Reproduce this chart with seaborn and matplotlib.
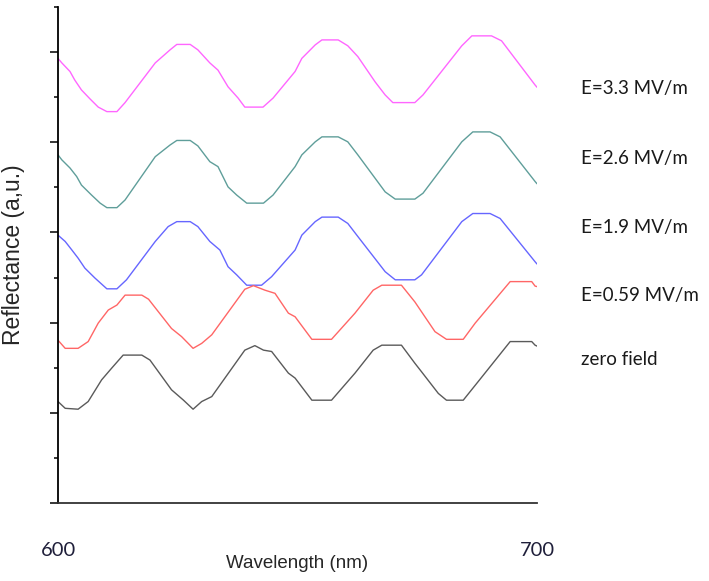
"""
Reflectance spectra under different applied fields (offset curves).
"""

import matplotlib
matplotlib.use("Agg")
import matplotlib.pyplot as plt
import matplotlib.transforms as mtransforms
import numpy as np
import pandas as pd
import seaborn as sns

# Vertices (wavelength in nm, reflectance in a.u. with offsets)
wl_33 = [600.0, 600.8, 602.5, 603.5, 604.9, 606.7, 608.4, 610.2, 612.3, 614.0,
         620.3, 623.4, 624.8, 627.6, 629.2, 631.7, 633.4, 635.5, 637.6, 639.0,
         642.8, 644.9, 649.5, 650.9, 653.7, 655.1, 658.5, 660.5, 662.6, 666.2,
         668.3, 669.9, 674.5, 676.2, 684.3, 686.4, 690.5, 692.6, 699.6, 700.0]
r_33 = [9.86, 9.76, 9.57, 9.38, 9.16, 8.96, 8.78, 8.68, 8.68, 8.88,
        9.76, 10.05, 10.17, 10.17, 10.05, 9.76, 9.60, 9.23, 8.98, 8.78,
        8.78, 8.98, 9.57, 9.86, 10.16, 10.27, 10.27, 10.14, 9.90, 9.34,
        9.05, 8.88, 8.88, 9.05, 10.14, 10.36, 10.36, 10.25, 9.27, 9.22]

wl_26 = [600.0, 600.8, 602.5, 603.9, 604.9, 607.0, 608.8, 610.2, 612.3, 614.0,
         620.3, 623.4, 624.8, 627.6, 629.2, 631.7, 633.4, 635.5, 637.3, 639.4,
         642.9, 644.9, 649.5, 650.9, 653.7, 655.1, 658.5, 660.5, 662.6, 668.3,
         670.4, 674.5, 676.2, 684.3, 686.6, 690.2, 692.3, 699.6, 700.0]
r_26 = [7.72, 7.61, 7.43, 7.24, 7.05, 6.83, 6.65, 6.55, 6.55, 6.72,
        7.68, 7.94, 8.04, 8.04, 7.92, 7.57, 7.46, 7.01, 6.83, 6.65,
        6.65, 6.83, 7.46, 7.72, 8.01, 8.12, 8.12, 8.01, 7.72, 6.90,
        6.74, 6.74, 6.87, 8.01, 8.23, 8.23, 8.12, 7.13, 7.08]

wl_19 = [600.0, 601.5, 602.9, 604.2, 605.6, 607.7, 610.2, 612.3, 614.3, 620.3,
         623.0, 624.8, 627.6, 629.2, 631.7, 633.8, 635.5, 637.3, 639.4, 642.5,
         644.6, 649.5, 650.9, 653.7, 655.1, 658.5, 660.5, 662.6, 668.3, 670.4,
         674.5, 675.9, 684.3, 686.6, 690.2, 692.3, 699.6, 700.0]
r_19 = [5.94, 5.80, 5.61, 5.43, 5.21, 4.99, 4.75, 4.75, 4.95, 5.80,
        6.13, 6.24, 6.24, 6.13, 5.80, 5.61, 5.24, 5.06, 4.83, 4.83,
        5.02, 5.61, 5.94, 6.24, 6.34, 6.34, 6.20, 5.91, 5.13, 4.95,
        4.95, 5.06, 6.24, 6.42, 6.42, 6.31, 5.35, 5.30]

wl_059 = [600.0, 601.5, 604.2, 606.3, 608.4, 610.5, 612.3, 614.0, 617.5, 618.9,
          623.7, 625.8, 628.2, 630.0, 632.1, 639.0, 640.8, 643.2, 645.3, 648.1,
          649.5, 653.0, 657.1, 662.0, 665.8, 667.6, 671.7, 674.5, 675.9, 678.7,
          681.1, 684.6, 687.1, 694.4, 698.9, 699.6, 700.0]
r_059 = [3.61, 3.43, 3.43, 3.58, 3.99, 4.28, 4.39, 4.61, 4.61, 4.52,
         3.87, 3.69, 3.43, 3.54, 3.73, 4.74, 4.82, 4.72, 4.65, 4.21,
         4.13, 3.63, 3.63, 4.21, 4.72, 4.83, 4.83, 4.46, 4.24, 3.80,
         3.63, 3.63, 3.99, 4.91, 4.91, 4.81, 4.80]

wl_0 = [600.0, 601.5, 604.2, 606.3, 609.1, 611.2, 613.6, 617.5, 619.2, 623.7,
        626.2, 628.2, 630.0, 632.1, 639.0, 641.1, 642.9, 644.6, 648.1, 649.5,
        653.0, 657.1, 662.0, 665.8, 667.6, 671.7, 674.5, 675.9, 679.4, 681.1,
        684.6, 687.7, 694.4, 698.9, 699.6, 700.0]
r_0 = [2.25, 2.10, 2.08, 2.25, 2.73, 2.99, 3.28, 3.28, 3.17, 2.51,
       2.28, 2.08, 2.25, 2.36, 3.39, 3.49, 3.39, 3.36, 2.88, 2.77,
       2.28, 2.28, 2.88, 3.39, 3.50, 3.50, 3.10, 2.91, 2.43, 2.28,
       2.28, 2.69, 3.58, 3.58, 3.50, 3.48]

labels = ["E=3.3 MV/m", "E=2.6 MV/m", "E=1.9 MV/m", "E=0.59 MV/m", "zero field"]
label_y = [9.2, 7.65, 6.12, 4.61, 3.19]
colors = ["#ff66ff", "#5f9e9a", "#6666ff", "#ff6666", "#5a5a5a"]

frames = []
for lab, wl, r in zip(labels, [wl_33, wl_26, wl_19, wl_059, wl_0],
                      [r_33, r_26, r_19, r_059, r_0]):
    frames.append(pd.DataFrame({"wl": wl, "r": r, "series": lab}))
df = pd.concat(frames, ignore_index=True)

sns.set_style("white")
plt.rcParams["font.family"] = ["Lato", "DejaVu Sans"]

fig = plt.figure(figsize=(7.09, 5.81), dpi=100)
ax = fig.add_axes([58 / 709, 78 / 581, 479 / 709, 496 / 581])

sns.lineplot(data=df, x="wl", y="r", hue="series", palette=dict(zip(labels, colors)),
             sort=False, estimator=None, linewidth=1.0, legend=False, ax=ax)

ax.set_xlim(600, 700)
ax.set_ylim(0, 11)
ax.set_xticks([600, 700])
ax.set_xticklabels(["600", "700"], fontsize=14.5, color="#1f1f3a")
ax.tick_params(axis="x", length=0, pad=28)
ax.set_yticks(np.arange(0, 11, 2))
ax.set_yticks(np.arange(1, 12, 2), minor=True)
ax.set_yticklabels([])
ax.tick_params(axis="y", which="major", direction="out", length=6, width=1.1,
               color="black", left=True)
ax.tick_params(axis="y", which="minor", direction="out", length=3, width=1.1,
               color="black", left=True)

for side in ["top", "right"]:
    ax.spines[side].set_visible(False)
ax.spines["left"].set_color("black")
ax.spines["left"].set_linewidth(1.3)
ax.spines["bottom"].set_color("#333333")
ax.spines["bottom"].set_linewidth(1.3)

narrow = ["Liberation Sans Narrow", "Liberation Sans", "DejaVu Sans"]
ax.set_xlabel("Wavelength (nm)", fontsize=13.5, family=narrow)
ax.xaxis.set_label_coords(0.5, -0.105)
ax.set_ylabel("Reflectance (a,u.)", fontsize=16.5, family=narrow)
ax.yaxis.set_label_coords(-0.069, 0.5)

trans = mtransforms.blended_transform_factory(ax.transAxes, ax.transData)
for lab, y in zip(labels, label_y):
    ax.text(1.092, y, lab, transform=trans, fontsize=13.5, color="#1a1a1a",
            va="center", ha="left")

fig.savefig("out.png", dpi=100)
